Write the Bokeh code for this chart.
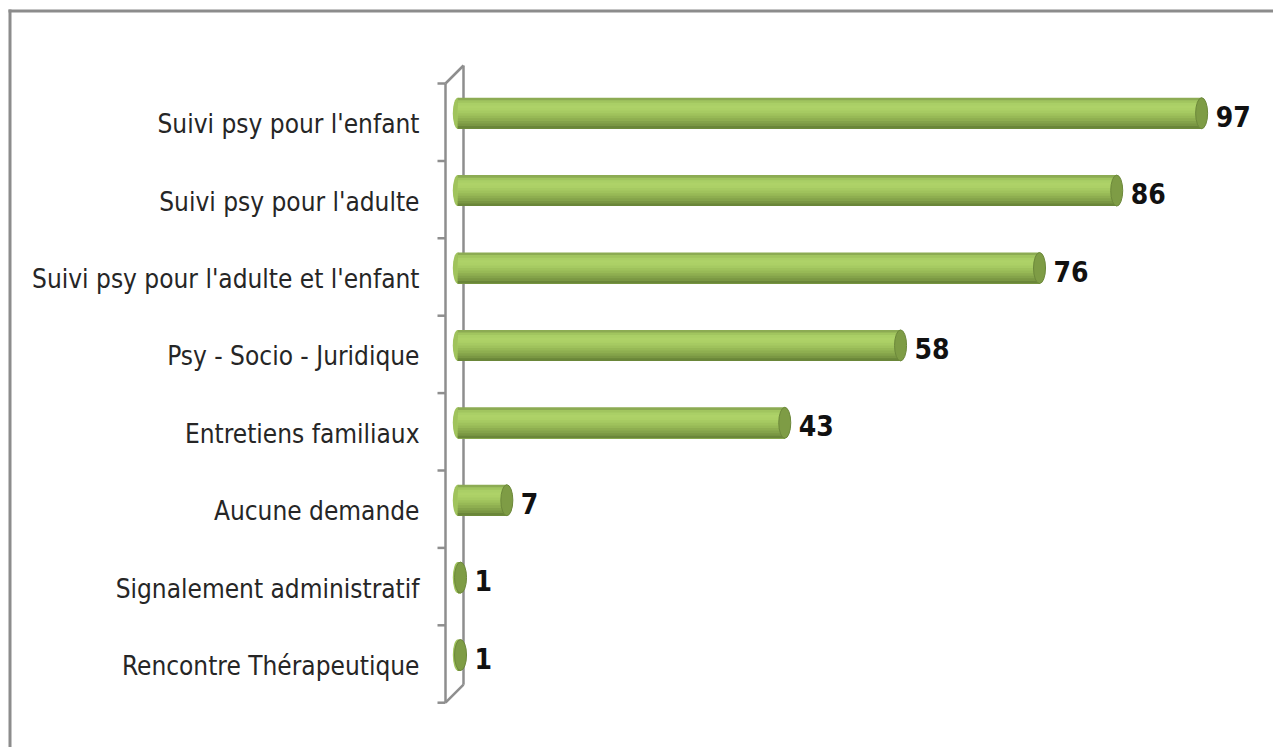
from bokeh.plotting import figure
from bokeh.models import Range1d, ColumnDataSource
from bokeh.core.properties import value
from bokeh.embed import file_html
from bokeh.resources import INLINE

# ---- data ----
categories = [
    "Suivi psy pour l'enfant",
    "Suivi psy pour l'adulte",
    "Suivi psy pour l'adulte et l'enfant",
    "Psy - Socio - Juridique",
    "Entretiens familiaux",
    "Aucune demande",
    "Signalement administratif",
    "Rencontre Thérapeutique",
]
counts = [97, 86, 76, 58, 43, 7, 1, 1]
value_labels = [str(v) for v in counts]

# ---- layout (page pixels) ----
W, H = 1273, 747
PAGE = 0
PXU = 7.72        # pixels per count unit
ZERO_PX = 452.3   # page x of count 0
BAND0_PX = 83.0   # page y of first category boundary
BAND_PX = 77.4    # category band height in px


def X(px):
    return (px - ZERO_PX) / PXU


def Y(py):
    return (py - BAND0_PX) / BAND_PX


FONT = value("DejaVu Sans Condensed")
n = len(categories)
idx = list(range(n))

p = figure(width=W, height=H,
           x_range=Range1d(X(PAGE), X(PAGE + W)),
           y_range=Range1d(Y(PAGE + H), Y(PAGE)),
           x_axis_location=None, y_axis_location=None,
           output_backend="svg", toolbar_location=None, min_border=0)
p.grid.visible = False
p.outline_line_color = None
p.background_fill_color = "white"
p.border_fill_color = "white"

# chart border (top + left)
p.segment(x0=[X(8), X(9.5)], y0=[Y(10.5), Y(9)],
          x1=[X(PAGE + W), X(9.5)], y1=[Y(10.5), Y(PAGE + H)],
          line_color="#8c8c8c", line_width=3)

# 3D wall
DX = X(463) - X(445)
DY = -18.0 / BAND_PX
fx = X(445)
wall_col = "#8e8e8e"
p.segment(x0=[fx, fx + DX, fx, fx], y0=[0, DY, 0, n],
          x1=[fx, fx + DX, fx + DX, fx + DX], y1=[n, n + DY, DY, n + DY],
          line_color=wall_col, line_width=2.5)
p.segment(x0=[X(437)] * (n + 1), y0=list(range(n + 1)),
          x1=[fx] * (n + 1), y1=list(range(n + 1)),
          line_color=wall_col, line_width=2.5)

# bars (cylinders)
shift = 9.0 / BAND_PX
bh = 31.0 / BAND_PX
yc = [i + 0.5 - shift for i in idx]
R = 5.0 / PXU

src = ColumnDataSource(dict(cat=categories, v=counts, lab=value_labels,
                            yc=yc, yl=[i + 0.5 for i in idx]))

p.ellipse(x=R, y="yc", width=10, width_units="screen", height=bh,
          fill_color="#a0c35c", line_color=None, source=src)

stripe_cols = ["#8cab53", "#a1c55f", "#aacf66", "#aed268", "#acd066",
               "#a6ca62", "#9fc25c", "#97b956", "#8eae50", "#84a34a",
               "#7a9743", "#6a8639"]
N = len(stripe_cols)
for k, c in enumerate(stripe_cols):
    tops = [y - bh / 2 + k * bh / N for y in yc]
    bots = [y + bh / 2 for y in yc]
    p.hbar(y=[(t + b) / 2 for t, b in zip(tops, bots)],
           height=[b - t for t, b in zip(tops, bots)],
           left=R, right=counts, fill_color=c, line_color=None)

p.ellipse(x="v", y="yc", width=12, width_units="screen", height=bh,
          fill_color="#7e9c45", line_color="#6c883a", line_width=1, source=src)

# value labels
p.text(x="v", y="yc", text="lab", x_offset=14, y_offset=3,
       text_font=FONT, text_font_size="28px", text_font_style="bold",
       text_color="#111111", text_align="left", text_baseline="middle",
       source=src)

# category labels
p.text(x=X(419), y="yl", text="cat", y_offset=2,
       text_font=FONT, text_font_size="26px", text_color="#262626",
       text_align="right", text_baseline="middle", source=src)

open("out.html", "w").write(file_html(p, INLINE))
